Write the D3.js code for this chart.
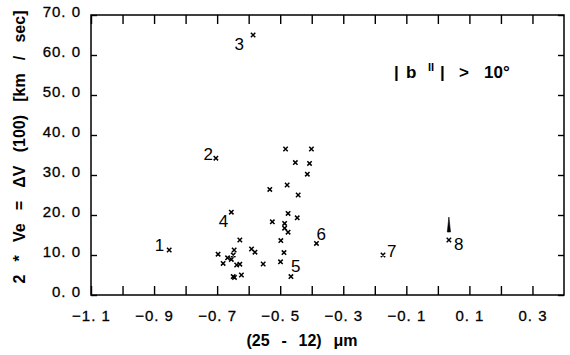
<!DOCTYPE html>
<html>
<head>
<meta charset="utf-8">
<script src="https://cdn.jsdelivr.net/npm/d3@7"></script>
<style>
body { margin: 0; background: #fff; }
svg { display: block; }
text { font-family: "Liberation Sans", Arial, Helvetica, sans-serif; fill: #000; }
</style>
</head>
<body>
<svg id="chart" width="570" height="355"></svg>
<script>
// axis ticks and labels
var xTickValues = [-1.1, -1.0, -0.9, -0.8, -0.7, -0.6, -0.5, -0.4, -0.3, -0.2, -0.1, 0.0, 0.1, 0.2, 0.3];
var xLabelValues = [-1.1, -0.9, -0.7, -0.5, -0.3, -0.1, 0.1, 0.3];
var yTickValues = [0, 10, 20, 30, 40, 50, 60, 70];

// unnamed sources: (25-12) colour and 2*Ve
var pointX = [-0.483, -0.401, -0.452, -0.407, -0.414, -0.533, -0.478, -0.443,
    -0.475, -0.446, -0.525, -0.486, -0.486, -0.475, -0.498, -0.488, -0.499,
    -0.628, -0.697, -0.646, -0.649, -0.667, -0.655, -0.681, -0.638, -0.628,
    -0.591, -0.580, -0.554, -0.649, -0.645, -0.623];
var pointY = [36.5, 36.5, 33.1, 32.9, 30.2, 26.4, 27.5, 25.0,
    20.4, 19.3, 18.3, 17.9, 16.7, 15.7, 13.6, 10.6, 8.3,
    13.75, 10.2, 11.25, 10.0, 9.3, 8.9, 7.9, 7.5, 7.7,
    11.5, 10.7, 7.75, 4.6, 4.4, 5.0];

// numbered sources
var namedIds = ["1", "2", "3", "4", "5", "6", "7", "8"];
var namedX = [-0.852, -0.704, -0.586, -0.655, -0.466, -0.385, -0.174, 0.035];
var namedY = [11.25, 34.2, 65.0, 20.7, 4.6, 12.9, 10.0, 13.75];

// lower limit arrow (source 8)
var arrowX = [0.035];
var arrowFrom = [15.75];
var arrowTo = [19.5];

// label placement relative to the marker: dx, dy, anchor
var labelOffset = {
    "1": [-5, 1, "end"], "2": [-3, 2, "end"], "3": [-9, 15, "end"], "4": [-3, 15, "end"],
    "5": [0, -5, "start"], "6": [0, -3, "start"], "7": [4, 2, "start"], "8": [5, 10, "start"]
};

var svg = d3.select("#chart");
var plotLeft = 91, plotRight = 564, plotTop = 15, plotBottom = 295;

var x = d3.scaleLinear().domain([-1.1, 0.4]).range([plotLeft, plotRight]);
var y = d3.scaleLinear().domain([0, 70]).range([plotBottom, plotTop]);

function fmt(v) {
    return d3.format(".1f")(v).replace("-", "\u2212").replace(".", ". ");
}
function isLabeled(v) {
    return xLabelValues.some(function (l) { return Math.abs(l - v) < 1e-6; });
}

// axes, ticks pointing inward
var gBottom = svg.append("g").attr("transform", "translate(0," + plotBottom + ")")
    .call(d3.axisBottom(x).tickValues(xTickValues).tickSizeInner(-9).tickSizeOuter(0)
        .tickPadding(15).tickFormat(function (d) { return isLabeled(d) ? fmt(d) : ""; }));
var gTop = svg.append("g").attr("transform", "translate(0," + plotTop + ")")
    .call(d3.axisTop(x).tickValues(xTickValues).tickSizeInner(-9).tickSizeOuter(0).tickFormat(""));
var gLeft = svg.append("g").attr("transform", "translate(" + plotLeft + ",0)")
    .call(d3.axisLeft(y).tickValues(yTickValues).tickSizeInner(-6).tickSizeOuter(0)
        .tickPadding(11).tickFormat(fmt));
var gRight = svg.append("g").attr("transform", "translate(" + plotRight + ",0)")
    .call(d3.axisRight(y).tickValues(yTickValues).tickSizeInner(-6).tickSizeOuter(0).tickFormat(""));

[gBottom, gTop, gLeft, gRight].forEach(function (g) {
    g.select(".domain").remove();
    g.selectAll(".tick line").attr("stroke", "#000").attr("stroke-width", 1.4);
    g.selectAll(".tick text").attr("font-size", 15).attr("font-family", null)
        .style("letter-spacing", "1px").attr("fill", "#000")
        .attr("stroke", "#000").attr("stroke-width", 0.3);
});
gLeft.selectAll(".tick text").attr("dy", "0.1em").attr("dx", "1px");

svg.append("rect")
    .attr("x", plotLeft).attr("y", plotTop)
    .attr("width", plotRight - plotLeft).attr("height", plotBottom - plotTop)
    .attr("fill", "none").attr("stroke", "#000").attr("stroke-width", 1.5);

// markers
var cross = "M-2.2,-2.2L2.2,2.2M-2.2,2.2L2.2,-2.2";
svg.append("g").selectAll("path").data(pointX).join("path")
    .attr("d", cross)
    .attr("transform", function (d, i) { return "translate(" + x(d) + "," + y(pointY[i]) + ")"; })
    .attr("stroke", "#000").attr("stroke-width", 1.5).attr("fill", "none");

var named = svg.append("g").selectAll("g").data(namedIds).join("g")
    .attr("transform", function (d, i) { return "translate(" + x(namedX[i]) + "," + y(namedY[i]) + ")"; });
named.append("path").attr("d", cross)
    .attr("stroke", "#000").attr("stroke-width", 1.5).attr("fill", "none");
named.append("text")
    .attr("x", function (d) { return labelOffset[d][0]; })
    .attr("y", function (d) { return labelOffset[d][1]; })
    .attr("text-anchor", function (d) { return labelOffset[d][2]; })
    .attr("font-size", 17)
    .text(function (d) { return d; });

// lower-limit arrow
svg.append("g").selectAll("path").data(arrowX).join("path")
    .attr("d", function (d, i) {
        var cx = x(d), y0 = y(arrowFrom[i]), y1 = y(arrowTo[i]);
        return "M" + (cx - 1.6) + "," + y0 + "L" + cx + "," + y1 + "L" + (cx + 1.6) + "," + y0 + "Z";
    })
    .attr("fill", "#000").attr("stroke", "#000").attr("stroke-width", 0.6);

// axis titles
var xTitle = svg.append("text")
    .attr("x", 302).attr("y", 346).attr("text-anchor", "middle")
    .attr("font-size", 16).attr("font-weight", "bold")
    .text("(25 - 12) \u03bcm");
var yTitle = svg.append("text")
    .attr("transform", "translate(25,147) rotate(-90)").attr("text-anchor", "middle")
    .attr("font-size", 16).attr("font-weight", "bold")
    .text("2 * Ve = \u0394V (100) [km / sec]");

function spreadWords(sel, target) {
    var n = sel.text().split(" ").length - 1;
    var len = sel.node().getComputedTextLength();
    sel.style("word-spacing", ((target - len) / n) + "px");
}
spreadWords(xTitle, 111);
spreadWords(yTitle, 273);

// galactic latitude note
var note = svg.append("text").attr("y", 78).attr("font-size", 17).attr("font-weight", "bold");
note.append("tspan").attr("x", 394).text("|");
note.append("tspan").attr("x", 406).text("b");
note.append("tspan").attr("x", 428).attr("dy", -7).attr("font-size", 11).text("II");
note.append("tspan").attr("x", 440).attr("dy", 7).text("|");
note.append("tspan").attr("x", 459).text(">");
note.append("tspan").attr("x", 484).text("10\u00b0");
</script>
</body>
</html>
